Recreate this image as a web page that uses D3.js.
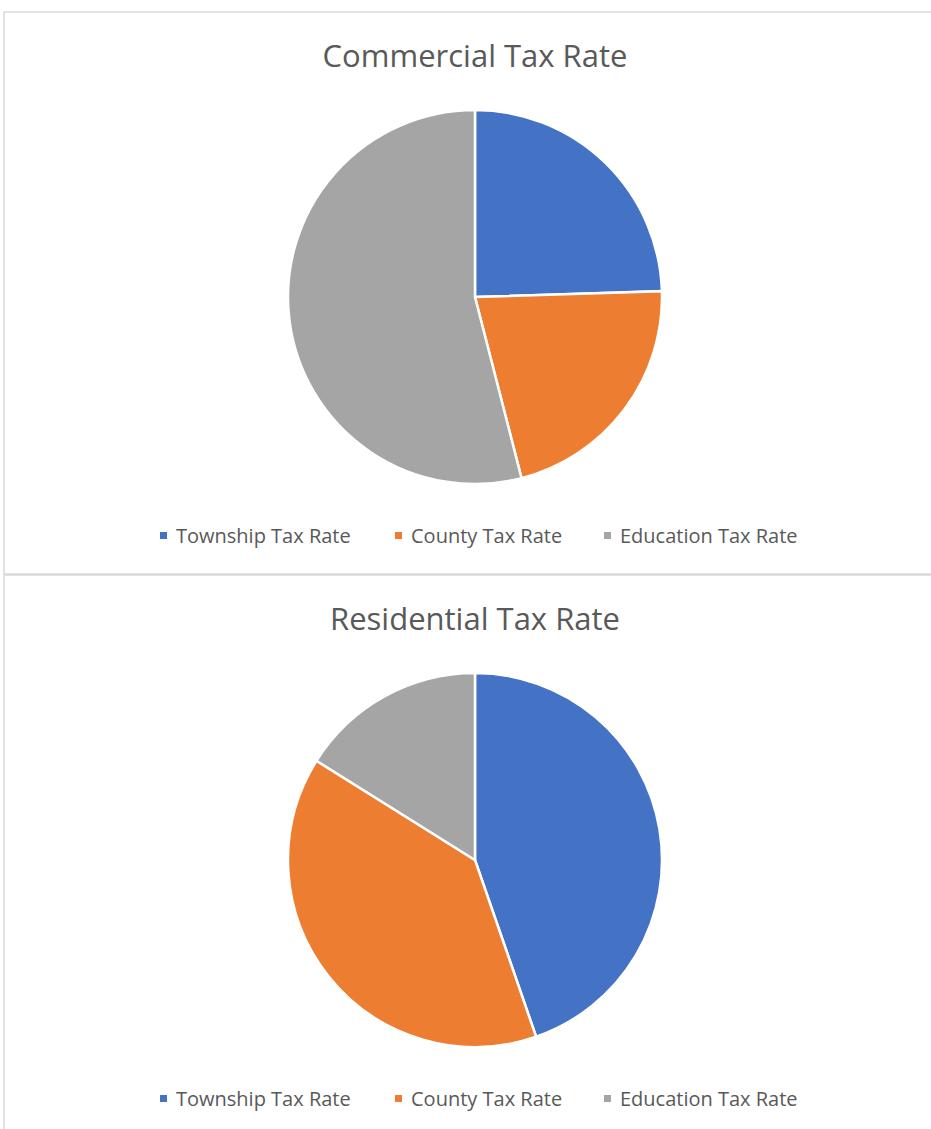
<!DOCTYPE html>
<meta charset="utf-8">
<style>
body { margin: 0; background: #fff; }
text { font-family: "Open Sans", sans-serif; fill: #595959; }
.frame { fill: none; stroke: #d9d9d9; stroke-width: 1.5px; }
</style>
<svg width="931" height="1129"></svg>
<script src="https://d3js.org/d3.v7.min.js"></script>
<script>

var categories = ["Township Tax Rate", "County Tax Rate", "Education Tax Rate"];
var colors = ["#4472c4", "#ed7d31", "#a5a5a5"];

// share of the total rate (percent)
var commercial = [24.5, 21.5, 54.0];
var residential = [44.7, 39.2, 16.1];

var charts = [
  {title: "Commercial Tax Rate", values: commercial, top: 12},
  {title: "Residential Tax Rate", values: residential, top: 575}
];

var svg = d3.select("svg");

var color = d3.scaleOrdinal().domain(categories).range(colors);

var pie = d3.pie().sort(null).value(function(d) { return d.value; });
var arc = d3.arc().innerRadius(0).outerRadius(187);

charts.forEach(function(c) {
  var g = svg.append("g").attr("transform", "translate(0," + c.top + ")");

  // chart frame
  g.append("rect")
      .attr("class", "frame")
      .attr("x", 4)
      .attr("y", 0)
      .attr("width", 940)
      .attr("height", 562);

  g.append("text")
      .attr("x", 475)
      .attr("y", 55)
      .attr("text-anchor", "middle")
      .style("font-size", "31px")
      .text(c.title);

  var data = categories.map(function(name, i) { return {name: name, value: c.values[i]}; });

  g.append("g")
      .attr("transform", "translate(475,285)")
    .selectAll("path")
    .data(pie(data))
    .enter().append("path")
      .attr("d", arc)
      .attr("fill", function(d) { return color(d.data.name); })
      .attr("stroke", "#fff")
      .attr("stroke-width", 2.5);

  // legend
  var legendX = [160, 395, 604];
  var legend = g.selectAll(".legend")
    .data(categories)
    .enter().append("g")
      .attr("class", "legend")
      .attr("transform", function(d, i) { return "translate(" + legendX[i] + ",524)"; });

  legend.append("rect")
      .attr("x", 0)
      .attr("y", -4)
      .attr("width", 7)
      .attr("height", 7)
      .attr("fill", function(d) { return color(d); });

  legend.append("text")
      .attr("x", 16)
      .attr("y", 0)
      .attr("dy", "0.35em")
      .style("font-size", "20px")
      .text(function(d) { return d; });
});

</script>
